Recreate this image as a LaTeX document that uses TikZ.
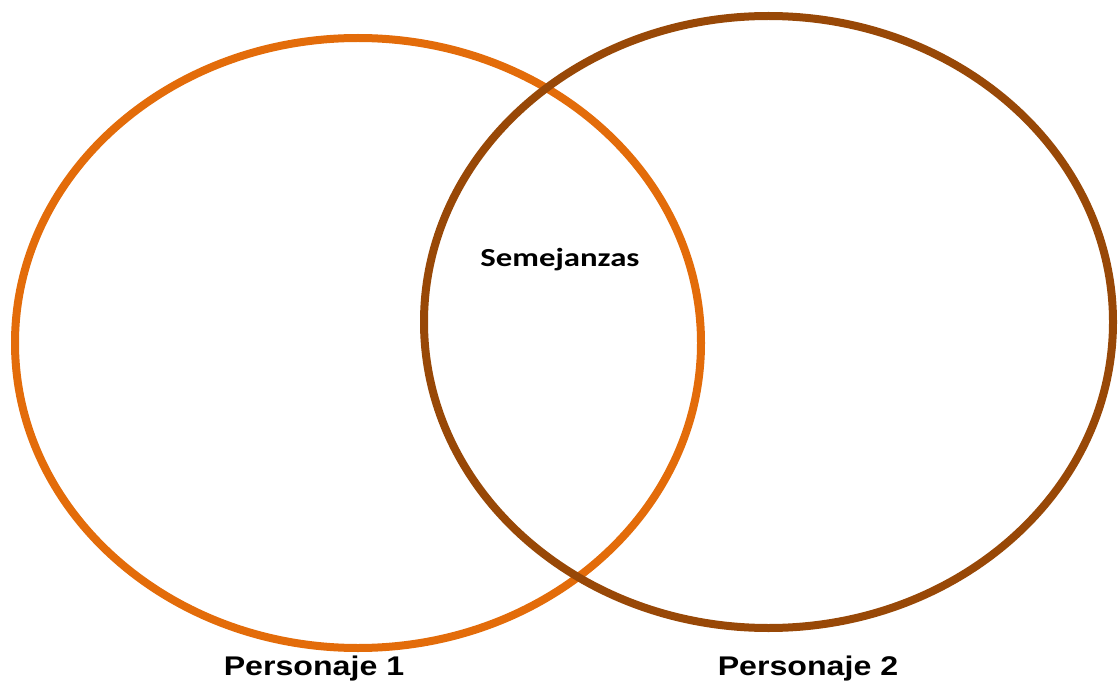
\documentclass[tikz,border=0pt]{standalone}
\usepackage{fontspec}
\setmainfont{Liberation Sans}
\newfontfamily\calfont{Carlito}
\definecolor{orng}{HTML}{E36C0A}
\definecolor{brwn}{HTML}{984807}
\begin{document}
\begin{tikzpicture}[x=1pt,y=-1pt,
  ring/.style={line width=8pt},
  lbl/.style={font=\bfseries\fontsize{27}{31}\selectfont, xscale=1.19, inner sep=0pt},
  mid/.style={font=\calfont\bfseries\fontsize{26}{30}\selectfont, xscale=1.26, inner sep=0pt}]
\useasboundingbox (0,0) rectangle (1119,687);
\draw[ring,orng] (358,343) ellipse [x radius=343, y radius=305];
\draw[ring,brwn] (768.5,322) ellipse [x radius=344.5, y radius=306];
\node[mid] (sem) at (560,260) {Semejanzas};
\node[lbl] (p1) at (314,669) {Personaje 1};
\node[lbl] (p2) at (808,669) {Personaje 2};
\end{tikzpicture}
\end{document}
